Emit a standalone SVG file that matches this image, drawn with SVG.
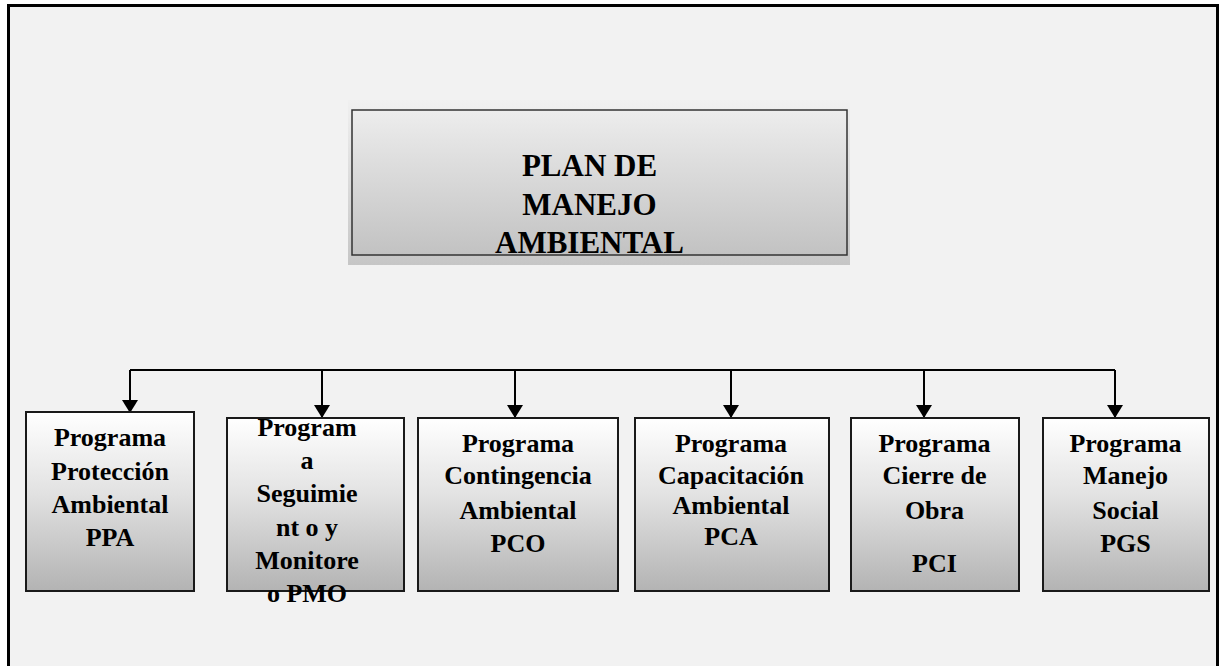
<svg xmlns="http://www.w3.org/2000/svg" width="1229" height="666" viewBox="0 0 1229 666">
<defs>
<linearGradient id="gTop" x1="0" y1="0" x2="0" y2="1">
<stop offset="0" stop-color="#ededed"/><stop offset="1" stop-color="#c2c2c2"/>
</linearGradient>
<linearGradient id="gGlow" x1="0" y1="0" x2="0" y2="1">
<stop offset="0" stop-color="#f0f0f0"/><stop offset="1" stop-color="#c6c6c6"/>
</linearGradient>
<linearGradient id="gBox" x1="0" y1="0" x2="0" y2="1">
<stop offset="0" stop-color="#ffffff"/><stop offset="0.45" stop-color="#e2e2e2"/><stop offset="1" stop-color="#b3b3b3"/>
</linearGradient>
<marker id="arr" viewBox="0 0 13 16" markerWidth="13" markerHeight="16" refX="13" refY="8" orient="auto" markerUnits="userSpaceOnUse">
<path d="M0,0 L13,8 L0,16 Z" fill="#000"/>
</marker>
<style>
.box{fill:url(#gBox);stroke:#1a1a1a;stroke-width:2}
.t{font-family:"Liberation Serif","Times New Roman",serif;font-weight:bold;fill:#000;text-anchor:middle}
.s{font-size:26px}
.big{font-size:31px}
.c{fill:none;stroke:#000;stroke-width:2}
</style>
</defs>
<rect x="0" y="0" width="1229" height="666" fill="#ffffff"/>
<rect x="8.5" y="5.5" width="1209" height="680" fill="#f2f2f2" stroke="#000" stroke-width="3"/>

<g id="plan">
<rect x="348" y="100" width="502" height="165" fill="url(#gGlow)"/>
<rect x="352" y="110" width="495" height="145" fill="url(#gTop)" stroke="#333" stroke-width="1.5"/>
<text class="t big" x="589.5" y="176">PLAN DE</text>
<text class="t big" x="589.5" y="215">MANEJO</text>
<text class="t big" x="589.5" y="253">AMBIENTAL</text>
</g>

<g id="connectors">
<path class="c" d="M130,370 H1115"/>
<path class="c" d="M130,370 V413" marker-end="url(#arr)"/>
<path class="c" d="M322,370 V418" marker-end="url(#arr)"/>
<path class="c" d="M515,370 V418" marker-end="url(#arr)"/>
<path class="c" d="M731,370 V418" marker-end="url(#arr)"/>
<path class="c" d="M924,370 V418" marker-end="url(#arr)"/>
<path class="c" d="M1115,370 V418" marker-end="url(#arr)"/>
</g>

<g id="ppa">
<rect class="box" x="26" y="412" width="168" height="179"/>
<text class="t s" x="110" y="446">Programa</text>
<text class="t s" x="110" y="480">Protección</text>
<text class="t s" x="110" y="513">Ambiental</text>
<text class="t s" x="110" y="546">PPA</text>
</g>

<g id="pmo">
<rect class="box" x="227" y="418" width="177" height="173"/>
<text class="t s" x="307" y="436">Program</text>
<text class="t s" x="307" y="469">a</text>
<text class="t s" x="307" y="502">Seguimie</text>
<text class="t s" x="307" y="536">nt o y</text>
<text class="t s" x="307" y="569">Monitore</text>
<text class="t s" x="307" y="602">o PMO</text>
</g>

<g id="pco">
<rect class="box" x="418" y="418" width="200" height="173"/>
<text class="t s" x="518" y="452">Programa</text>
<text class="t s" x="518" y="484">Contingencia</text>
<text class="t s" x="518" y="519">Ambiental</text>
<text class="t s" x="518" y="552">PCO</text>
</g>

<g id="pca">
<rect class="box" x="635" y="418" width="194" height="173"/>
<text class="t s" x="731" y="452">Programa</text>
<text class="t s" x="731" y="484">Capacitación</text>
<text class="t s" x="731" y="514">Ambiental</text>
<text class="t s" x="731" y="545">PCA</text>
</g>

<g id="pci">
<rect class="box" x="851" y="418" width="168" height="173"/>
<text class="t s" x="934.5" y="452">Programa</text>
<text class="t s" x="934.5" y="484">Cierre de</text>
<text class="t s" x="934.5" y="519">Obra</text>
<text class="t s" x="934.5" y="572">PCI</text>
</g>

<g id="pgs">
<rect class="box" x="1043" y="418" width="166" height="173"/>
<text class="t s" x="1125.5" y="452">Programa</text>
<text class="t s" x="1125.5" y="484">Manejo</text>
<text class="t s" x="1125.5" y="519">Social</text>
<text class="t s" x="1125.5" y="552">PGS</text>
</g>
</svg>
